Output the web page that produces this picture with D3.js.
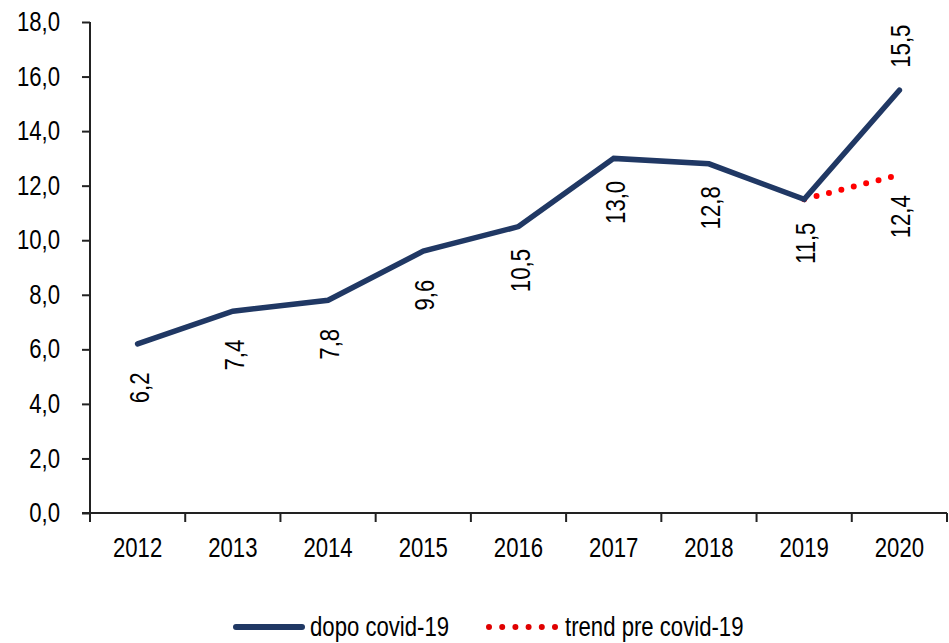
<!DOCTYPE html>
<html><head><meta charset="utf-8">
<script src="https://cdn.jsdelivr.net/npm/d3@7"></script>
<style>
body{margin:0;background:#fff;}
text{font-family:"Liberation Sans",Arial,sans-serif;fill:#000;}
</style></head>
<body><svg id="c" width="949" height="643"></svg>
<script>
const years = ["2012","2013","2014","2015","2016","2017","2018","2019","2020"];
const dopoCovid = [6.2, 7.4, 7.8, 9.6, 10.5, 13.0, 12.8, 11.5, 15.5];
const trendYears = ["2019","2020"];
const trendPreCovid = [11.5, 12.4];
const yTicks = [0,2,4,6,8,10,12,14,16,18];
const labelAbove = [false,false,false,false,false,false,false,false,true];

const svg = d3.select("#c");
const fmt = v => d3.format(".1f")(v).replace(".", ",");
const x = d3.scaleBand().domain(years).range([90, 947]).padding(0);
const cx = d => x(d) + x.bandwidth()/2;
const y = d3.scaleLinear().domain([0,18]).range([513, 22]);
const FS = 27;

// Y axis
const yAx = svg.append("g").attr("transform","translate(90,0)")
  .call(d3.axisLeft(y).tickValues(yTicks).tickFormat(fmt).tickSize(8).tickPadding(22));
yAx.select(".domain").attr("stroke","#222").attr("stroke-width",2).attr("d","M0,"+y(18)+"V"+y(0));
yAx.selectAll(".tick line").attr("stroke","#222").attr("stroke-width",2);
yAx.selectAll("text").style("font-size",FS+"px").attr("font-family",null);

// X axis
const xg = svg.append("g");
xg.append("line").attr("x1",82).attr("x2",947).attr("y1",y(0)).attr("y2",y(0)).attr("stroke","#222").attr("stroke-width",2);
const bounds = years.map(d=>x(d)).concat([x(years[years.length-1])+x.bandwidth()]);
xg.selectAll(".xt").data(bounds).join("line").attr("x1",d=>d).attr("x2",d=>d)
  .attr("y1",y(0)).attr("y2",y(0)+9).attr("stroke","#222").attr("stroke-width",2);
xg.selectAll(".xl").data(years).join("text").attr("x",d=>cx(d)).attr("y",548)
  .attr("text-anchor","middle").attr("dominant-baseline","central").style("font-size",FS+"px").text(d=>d);

// trend line
const line = d3.line().x(d=>cx(d[0])).y(d=>y(d[1]));
svg.append("path").datum(trendYears.map((d,i)=>[d,trendPreCovid[i]])).attr("d",line)
  .attr("fill","none").attr("stroke","#ff0000").attr("stroke-width",6).attr("stroke-linecap","round")
  .attr("stroke-dasharray","0,12.8");

// main line
svg.append("path").datum(years.map((d,i)=>[d,dopoCovid[i]])).attr("d",line)
  .attr("fill","none").attr("stroke","#203864").attr("stroke-width",5.5).attr("stroke-linejoin","miter").attr("stroke-linecap","round");

// data labels
function lab(xp, yp, txt){
  svg.append("text").attr("transform",`translate(${xp},${yp}) rotate(-90)`)
    .attr("text-anchor","middle").attr("dominant-baseline","central").style("font-size",FS+"px").text(txt);
}
years.forEach((d,i)=>{
  lab(cx(d)+2, y(dopoCovid[i]) + (labelAbove[i] ? -44 : 44), fmt(dopoCovid[i]));
});
lab(cx("2020")+2, y(trendPreCovid[1]) + 42, fmt(trendPreCovid[1]));

// legend
const lg = svg.append("g");
lg.append("line").attr("x1",236).attr("x2",302).attr("y1",627).attr("y2",627)
  .attr("stroke","#203864").attr("stroke-width",6).attr("stroke-linecap","round");
lg.append("text").attr("x",310).attr("y",627).attr("dominant-baseline","central").style("font-size",FS+"px").text("dopo covid-19");
lg.append("line").attr("x1",489).attr("x2",555).attr("y1",627).attr("y2",627)
  .attr("stroke","#e00000").attr("stroke-width",6).attr("stroke-linecap","round").attr("stroke-dasharray","0,13.2");
lg.append("text").attr("x",565).attr("y",627).attr("dominant-baseline","central").style("font-size",FS+"px").text("trend pre covid-19");

// condense text (narrow face look)
svg.selectAll("text").each(function(){
  const w = this.getComputedTextLength();
  this.setAttribute("textLength", (w*0.82).toFixed(1));
  this.setAttribute("lengthAdjust","spacingAndGlyphs");
});
</script></body></html>
